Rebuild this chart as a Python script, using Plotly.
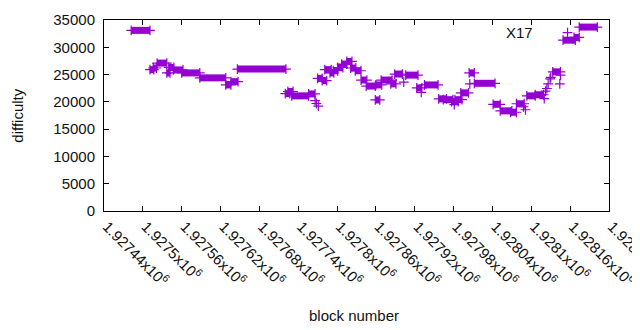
import plotly.graph_objects as go

# Runs of consecutive blocks sharing the same difficulty
run_start = [1927482, 1927511, 1927516, 1927522, 1927537, 1927540, 1927547, 1927560,
             1927588, 1927628, 1927636, 1927646, 1927720, 1927724, 1927730, 1927756,
             1927770, 1927777, 1927781, 1927789, 1927794, 1927801, 1927807, 1927815,
             1927821, 1927828, 1927837, 1927845, 1927859, 1927860, 1927868, 1927883,
             1927889, 1927906, 1927923, 1927935, 1927957, 1927964, 1927977, 1927982,
             1927991, 1928004, 1928012, 1928041, 1928052, 1928068, 1928077, 1928093,
             1928106, 1928133, 1928149, 1928166, 1928174]
run_end = [1927511, 1927517, 1927521, 1927537, 1927542, 1927548, 1927562, 1927588,
           1927628, 1927636, 1927647, 1927721, 1927727, 1927732, 1927756, 1927766,
           1927777, 1927784, 1927791, 1927795, 1927801, 1927809, 1927815, 1927823,
           1927829, 1927837, 1927846, 1927859, 1927866, 1927869, 1927885, 1927891,
           1927901, 1927925, 1927931, 1927956, 1927969, 1927979, 1927987, 1927993,
           1928003, 1928012, 1928044, 1928052, 1928070, 1928077, 1928089, 1928106,
           1928119, 1928145, 1928168, 1928174, 1928202]
run_diff = [33100, 25900, 26200, 27100, 25300, 26300, 25850, 25300,
            24400, 23100, 23700, 26000, 21500, 21900, 21100, 21450,
            24300, 23900, 25900, 25300, 25700, 26300, 26900, 27400,
            26200, 25700, 24000, 22900, 20350, 23100, 24000, 23300,
            25100, 24900, 22550, 23100, 20550, 20400, 20050, 20400,
            21650, 25300, 23400, 19550, 18350, 18100, 19650, 21100,
            21300, 25500, 31300, 31800, 33700]

# Isolated blocks
single_block = [1927766, 1927768, 1927771, 1927903, 1927930, 1927981, 1928005,
                1928088, 1928091, 1928120, 1928122, 1928124, 1928126, 1928129,
                1928130, 1928144, 1928145, 1928156]
single_diff = [20240, 19700, 19200, 23600, 21750, 19500, 23300,
               19100, 18550, 20600, 21950, 22450, 23300, 24200,
               24500, 23300, 24900, 32700]

tick_vals = [1927440 + 60 * i for i in range(14)]
tick_text = ["1.92744", "1.9275", "1.92756", "1.92762", "1.92768", "1.92774", "1.9278",
             "1.92786", "1.92792", "1.92798", "1.92804", "1.9281", "1.92816", "1.92822"]
y_ticks = [0, 5000, 10000, 15000, 20000, 25000, 30000, 35000]

COLOR = "#9400d3"

seg_x, seg_y = [], []
for s, e, d in zip(run_start, run_end, run_diff):
    seg_x += [s, e, None]
    seg_y += [d, d, None]

fig = go.Figure()
fig.add_trace(go.Scatter(
    x=seg_x, y=seg_y, mode="lines+markers",
    line=dict(color=COLOR, width=7),
    marker=dict(symbol="cross-thin", size=7, color=COLOR, line=dict(color=COLOR, width=1.2)),
    showlegend=False, hoverinfo="skip"))
fig.add_trace(go.Scatter(
    x=single_block, y=single_diff, mode="markers",
    marker=dict(symbol="cross-thin", size=7, color=COLOR, line=dict(color=COLOR, width=1.2)),
    showlegend=False))

FONT = "Liberation Sans, Arial, sans-serif"
# page body has an 8px margin, so the figure is shrunk by 8px and margins compensated
fig.update_layout(
    width=632, height=322,
    margin=dict(l=96, r=31, t=12, b=119),
    paper_bgcolor="white", plot_bgcolor="white",
    font=dict(family=FONT, size=15, color="#111111"),
    xaxis=dict(range=[1927440, 1928220], tickvals=tick_vals,
               ticktext=[t + "x10<sup>6</sup>" for t in tick_text],
               tickangle=45, ticks="inside", ticklen=5, tickcolor="black",
               showline=True, linecolor="black", linewidth=1, mirror="ticks",
               showgrid=False, zeroline=False, tickfont=dict(size=15),
               ticklabelshift=3, ticklabeloverflow="allow",
               automargin=False),
    yaxis=dict(range=[0, 35000], tickvals=y_ticks,
               ticktext=[str(v) for v in y_ticks],
               ticks="inside", ticklen=5, tickcolor="black",
               showline=True, linecolor="black", linewidth=1, mirror="ticks",
               showgrid=False, zeroline=False, tickfont=dict(size=15),
               ticklabelstandoff=5, automargin=False),
    annotations=[
        dict(text="difficulty", xref="paper", yref="paper", x=-0.172, y=0.50,
             xanchor="center", yanchor="middle",
             textangle=-90, showarrow=False, font=dict(size=15)),
        dict(text="block number", xref="paper", yref="paper", x=0.495, y=-0.546,
             xanchor="center", yanchor="middle",
             showarrow=False, font=dict(size=15)),
        dict(text="X17", xref="paper", yref="paper", x=0.822, y=0.936,
             xanchor="center", yanchor="middle",
             showarrow=False, font=dict(size=15)),
    ],
)

fig.write_html("out.html")
